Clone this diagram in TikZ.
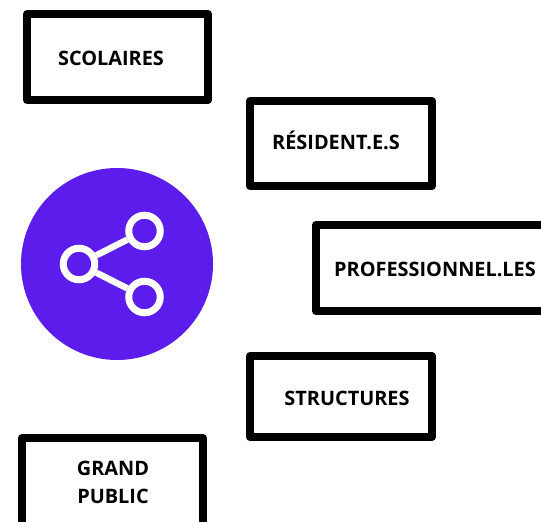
\documentclass[tikz,border=0pt]{standalone}
\usepackage{fontspec}
\setmainfont{Open Sans}
\definecolor{violet}{HTML}{5C1CEC}
\tikzset{
  frame/.style={draw=black,line width=8bp,line join=round,fill=white,inner sep=0pt},
  lbl/.style={font=\fontsize{19.9bp}{28bp}\selectfont\bfseries,text=black,inner sep=0pt,align=center,anchor=center},
  ring/.style={draw=white,line width=7bp,fill=violet,circle,inner sep=0pt,minimum size=31.5bp},
  link/.style={draw=white,line width=6.5bp}
}
\begin{document}
\begin{tikzpicture}[x=1bp,y=-1bp]
\useasboundingbox (0,0) rectangle (541,522);
\clip (0,0) rectangle (541,522);
\fill[white] (0,0) rectangle (541,522);
\node[frame,minimum width=181bp,minimum height=86bp] (b1) at (117.5,57) {};
\node[frame,minimum width=182bp,minimum height=85bp] (b2) at (341,143.5) {};
\node[frame,minimum width=240bp,minimum height=86bp] (b3) at (436,268) {};
\node[frame,minimum width=182bp,minimum height=81bp] (b4) at (341,396.5) {};
\node[frame,minimum width=181bp,minimum height=100bp] (b5) at (112.5,488) {};
\node[lbl] (t1) at (111,58) {SCOLAIRES};
\node[lbl] (t2) at (336,140.5) {RÉSIDENT.E.S};
\node[lbl] (t3) at (435,269) {PROFESSIONNEL.LES};
\node[lbl] (t4) at (347,398) {STRUCTURES};
\node[lbl] (t5) at (113,482) {GRAND\\PUBLIC};
\node[circle,fill=violet,minimum size=192bp,inner sep=0pt] (disc) at (117,264) {};
\node[ring] (n1) at (79,264) {};
\node[ring] (n2) at (144.5,231) {};
\node[ring] (n3) at (144.5,297) {};
\draw[link] (n1) -- (n2);
\draw[link] (n1) -- (n3);
\end{tikzpicture}
\end{document}
